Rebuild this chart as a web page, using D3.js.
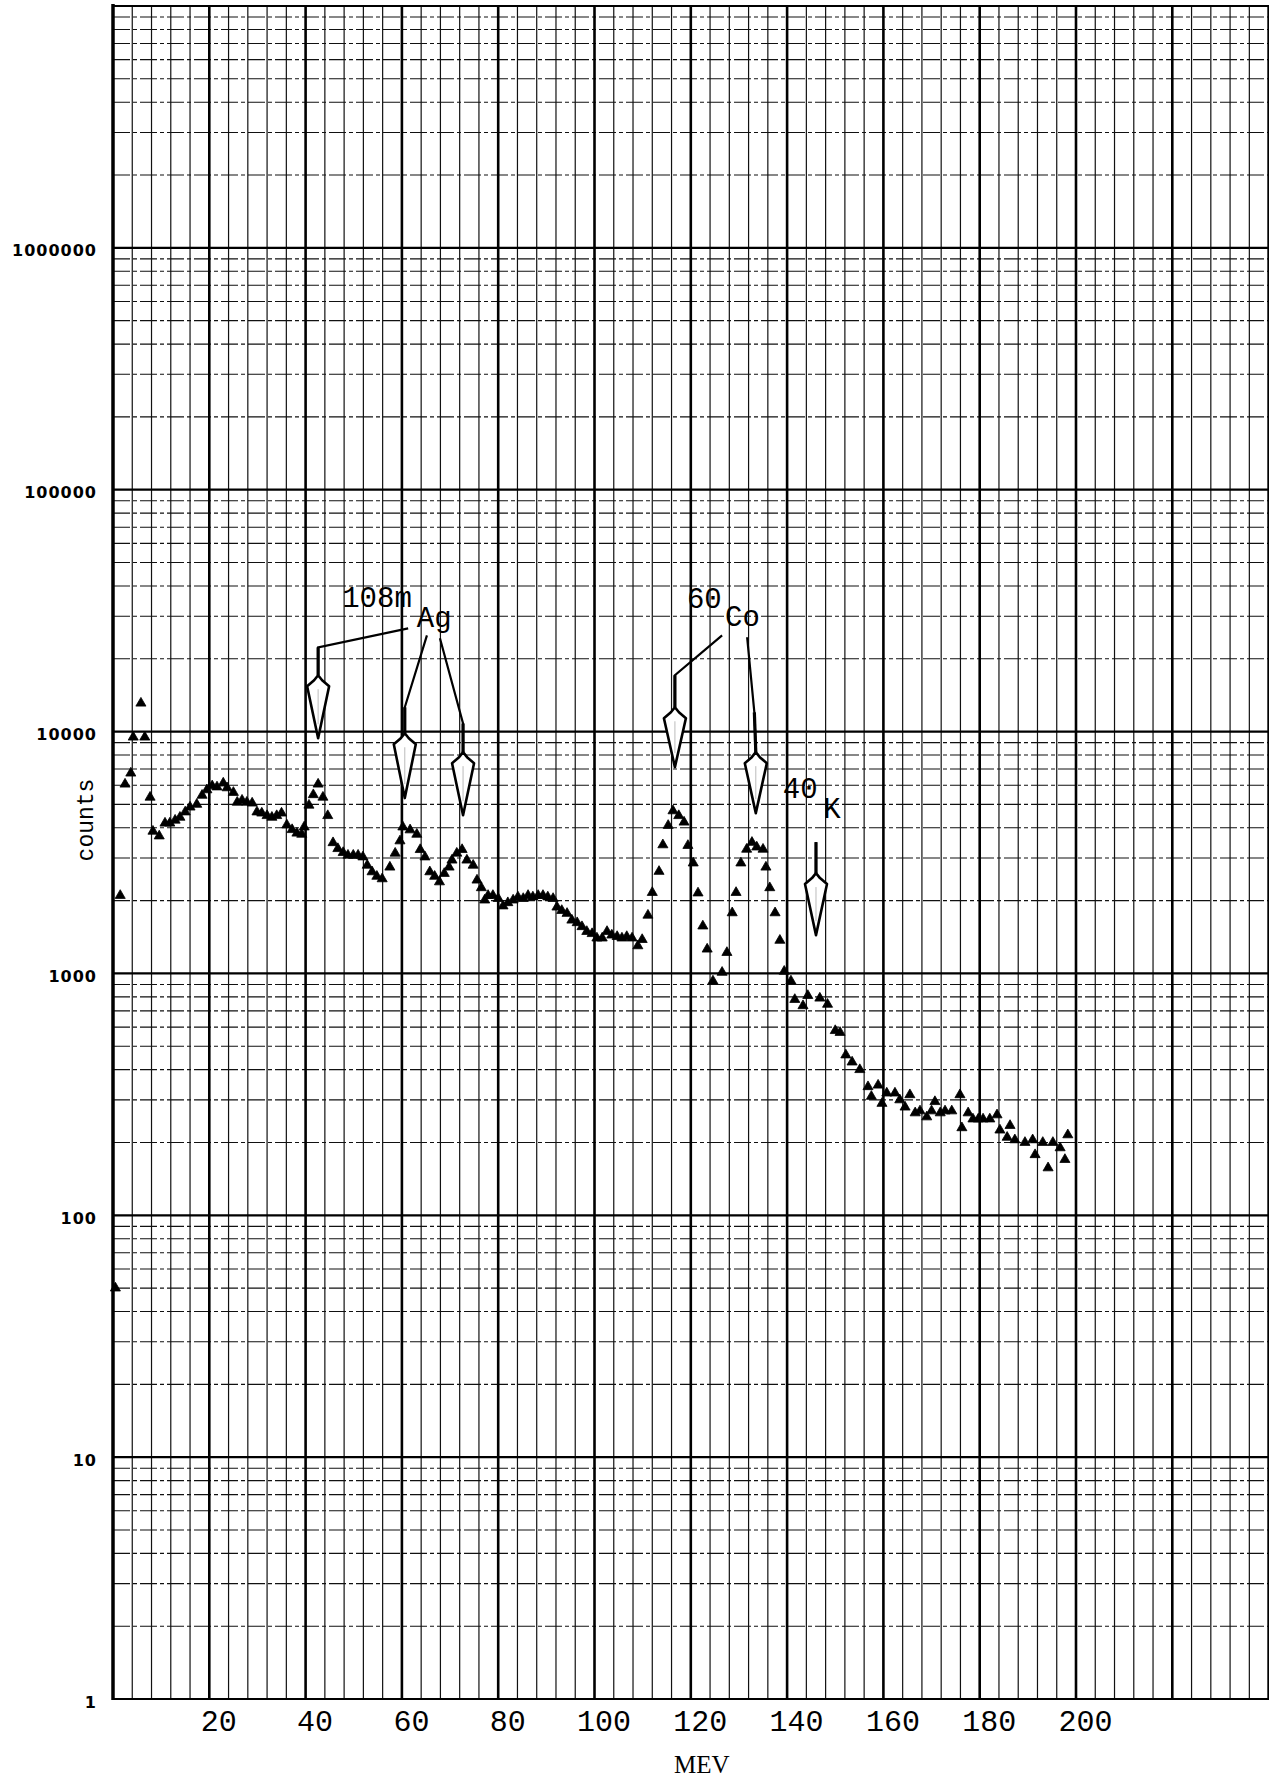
<!DOCTYPE html>
<html>
<head>
<meta charset="utf-8">
<script src="https://cdn.jsdelivr.net/npm/d3@7"></script>
<style>
  body { margin: 0; background: #fff; }
  svg { display: block; }
</style>
</head>
<body>
<svg id="chart" width="1269" height="1777"></svg>
<script>
// spectrum: energy (MEV) and counts
var energy = [0.5, 1.5, 2.5, 3.7, 4.2, 5.8, 6.6, 7.7, 8.3, 9.6,
  10.8, 11.8, 12.9, 13.9, 15.0, 16.0, 17.4, 18.5, 19.5, 20.6,
  21.6, 22.9, 23.7, 25.0, 25.8, 26.8, 27.8, 28.9, 29.9, 30.9,
  32.0, 33.0, 34.0, 35.0, 36.1, 37.2, 38.2, 39.2, 39.7, 40.7,
  41.6, 42.6, 43.6, 44.6, 45.7, 46.7, 47.8, 48.8, 49.9, 50.9,
  51.9, 52.8, 53.8, 54.8, 55.9, 57.5, 58.6, 59.6, 60.2, 61.7,
  63.1, 63.8, 64.8, 65.8, 66.8, 67.8, 68.8, 69.8, 70.4, 71.4,
  72.5, 73.5, 74.8, 75.6, 76.5, 77.2, 77.9, 78.9, 80.0, 81.0,
  82.0, 83.1, 84.1, 85.2, 86.2, 87.2, 88.3, 89.3, 90.3, 91.4,
  92.2, 93.2, 94.3, 95.3, 96.4, 97.4, 98.4, 99.5, 100.5, 101.6,
  102.6, 103.6, 104.7, 105.7, 106.7, 107.8, 109.0, 109.9, 111.1, 112.0,
  113.4, 114.2, 115.3, 116.3, 117.5, 118.6, 119.4, 120.5, 121.5, 122.5,
  123.4, 124.6, 126.5, 127.5, 128.6, 129.4, 130.4, 131.6, 132.7, 133.7,
  135.0, 135.6, 136.4, 137.5, 138.5, 139.4, 140.8, 141.6, 143.3, 144.3,
  146.8, 148.4, 150.0, 151.0, 152.2, 153.5, 155.1, 156.8, 157.5, 158.9,
  159.7, 160.7, 162.4, 163.4, 164.5, 165.5, 166.6, 167.6, 169.0, 170.0,
  170.7, 171.8, 172.8, 174.2, 175.9, 176.3, 177.6, 178.6, 179.7, 180.7,
  182.1, 183.6, 184.2, 185.7, 186.3, 187.3, 189.4, 191.0, 191.5, 193.1,
  194.2, 195.2, 196.7, 197.7, 198.3];
var counts = [50, 2100, 6060, 6730, 9480, 13100, 9480, 5350, 3870, 3700,
  4180, 4180, 4300, 4420, 4650, 4870, 5000, 5450, 5740, 5960,
  5900, 6120, 5850, 5600, 5100, 5200, 5100, 5060, 4650, 4600,
  4490, 4420, 4490, 4600, 4110, 3930, 3800, 3760, 4030, 4960,
  5480, 6060, 5350, 4490, 3470, 3280, 3160, 3080, 3080, 3080,
  3030, 2800, 2630, 2520, 2460, 2750, 3140, 3530, 4030, 3920,
  3760, 3250, 3030, 2630, 2520, 2390, 2590, 2750, 2940, 3140,
  3250, 2940, 2800, 2430, 2260, 2010, 2100, 2100, 2040, 1900,
  1960, 2010, 2070, 2040, 2100, 2070, 2100, 2100, 2070, 2040,
  1880, 1820, 1770, 1660, 1620, 1560, 1490, 1460, 1400, 1400,
  1490, 1440, 1420, 1400, 1420, 1400, 1300, 1380, 1740, 2160,
  2640, 3400, 4090, 4700, 4490, 4220, 3380, 2860, 2150, 1570,
  1260, 930, 1010, 1220, 1780, 2160, 2860, 3260, 3480, 3330,
  3260, 2750, 2260, 1780, 1370, 1020, 930, 780, 735, 810,
  790, 745, 580, 570, 460, 430, 400, 340, 310, 345,
  290, 320, 320, 300, 280, 315, 265, 270, 255, 270,
  295, 265, 270, 270, 315, 230, 265, 250, 250, 250,
  250, 260, 225, 210, 235, 205, 200, 205, 178, 200,
  157, 200, 190, 170, 215];

var countTicks = [1, 10, 100, 1000, 10000, 100000, 1000000];
var energyTicks = [20, 40, 60, 80, 100, 120, 140, 160, 180, 200];

// hand-drawn peak markers: leader line points and arrow tips, in (MEV, counts)
var arrowLeaders = [
  [[61.3, 26700], [42.6, 22300], [42.6, 17100]],
  [[65.2, 25000], [60.6, 12600], [60.6, 9840]],
  [[67.9, 24300], [72.7, 10800], [72.7, 8220]],
  [[126.5, 25000], [116.7, 17100], [116.7, 12600]],
  [[131.7, 24550], [133.2, 12000], [133.5, 8220]],
  [[146.0, 3490], [146.0, 2600]]
];
var arrowTips = [[42.6, 9390], [60.6, 5310], [72.7, 4510], [116.7, 7130], [133.5, 4600], [146.0, 1440]];

var isotopeText = ["108m", "Ag", "60", "Co", "40", "K"];
var isotopeAt = [[47.6, 32700], [63.1, 27000], [119.2, 32400], [127.1, 27300], [139.1, 5310], [147.5, 4390]];

var svg = d3.select("#chart");

var x = d3.scaleLinear().domain([0, 240]).range([113, 1268.6]);
var y = d3.scaleLog().domain([1, 1e7]).range([1699, 6]);

// ---- graph paper ----
var grid = svg.append("g");

var minorCounts = [];
for (var p = 0; p < 7; p++) {
  for (var k = 2; k <= 9; k++) minorCounts.push(k * Math.pow(10, p));
}
grid.selectAll(".hminor").data(minorCounts).enter().append("line")
    .attr("x1", x(0)).attr("x2", 1269)
    .attr("y1", function(d) { return y(d) }).attr("y2", function(d) { return y(d) })
    .attr("stroke", "#111").attr("stroke-width", 1.1)
    .attr("stroke-dasharray", "17,3,4,3");

var minorE = d3.range(4, 241, 4).filter(function(e) { return e % 20 != 0 });
grid.selectAll(".vminor").data(minorE).enter().append("line")
    .attr("y1", y(1e7)).attr("y2", y(1))
    .attr("x1", function(d) { return x(d) }).attr("x2", function(d) { return x(d) })
    .attr("stroke", "#111").attr("stroke-width", 1.2);

grid.selectAll(".hmajor").data(countTicks.concat([1e7])).enter().append("line")
    .attr("x1", x(0)).attr("x2", 1269)
    .attr("y1", function(d) { return y(d) }).attr("y2", function(d) { return y(d) })
    .attr("stroke", "#000").attr("stroke-width", 2.2);

grid.selectAll(".vmajor").data(d3.range(20, 241, 20)).enter().append("line")
    .attr("y1", y(1e7)).attr("y2", y(1))
    .attr("x1", function(d) { return x(d) }).attr("x2", function(d) { return x(d) })
    .attr("stroke", "#000").attr("stroke-width", 2.6);

grid.append("line")
    .attr("x1", x(0)).attr("x2", x(0)).attr("y1", y(1e7) - 2).attr("y2", y(1) + 1)
    .attr("stroke", "#000").attr("stroke-width", 3.5);

// ---- axes ----
var yAxis = svg.append("g")
    .attr("transform", "translate(" + x(0) + ",0)")
    .call(d3.axisLeft(y).tickValues(countTicks).tickFormat(d3.format("d")).tickSize(0).tickPadding(16));
yAxis.select(".domain").remove();
yAxis.selectAll("text")
    .attr("dy", null).attr("y", 8)
    .style("font-family", "DejaVu Sans").style("font-weight", "bold")
    .style("font-size", "16px").style("letter-spacing", "1px").attr("fill", "#000");

var xAxis = svg.append("g")
    .attr("transform", "translate(0," + y(1) + ")")
    .call(d3.axisBottom(x).tickValues(energyTicks).tickSize(0));
xAxis.select(".domain").remove();
xAxis.selectAll("text")
    .attr("dy", null).attr("y", 32).attr("x", 9)
    .style("font-family", "Liberation Mono").style("font-size", "30px").attr("fill", "#000");

svg.append("text")
    .attr("x", x(122.3)).attr("y", 1773)
    .attr("text-anchor", "middle")
    .style("font-family", "Liberation Serif").style("font-size", "25px")
    .text("MEV");

svg.append("text")
    .attr("transform", "translate(93,820) rotate(-90)")
    .attr("text-anchor", "middle")
    .style("font-family", "Liberation Mono").style("font-size", "23px")
    .text("counts");

// ---- spectrum ----
var tri = d3.symbol().type(d3.symbolTriangle).size(44);
svg.append("g").selectAll("path").data(energy).enter().append("path")
    .attr("d", tri)
    .attr("transform", function(e, i) { return "translate(" + x(e) + "," + y(counts[i]) + ")" })
    .attr("fill", "#000").attr("stroke", "#000").attr("stroke-width", 0.8)
    .attr("stroke-linejoin", "round");

// ---- peak arrows ----
var ann = svg.append("g");
var leader = d3.line().x(function(d) { return x(d[0]) }).y(function(d) { return y(d[1]) });

arrowLeaders.forEach(function(pts, i) {
  ann.append("path").attr("d", leader(pts))
      .attr("fill", "none").attr("stroke", "#000").attr("stroke-width", 2.2);
  var stem = pts.slice(-2);
  ann.append("path").attr("d", leader(stem))
      .attr("fill", "none").attr("stroke", "#000").attr("stroke-width", 3.2);

  var neck = pts[pts.length - 1], tip = arrowTips[i];
  var cx = x(tip[0]), yn = y(neck[1]), yt = y(tip[1]);
  var spear = "M" + cx + "," + yn +
      "L" + (cx - 4) + "," + (yn + 5) + "L" + (cx - 11) + "," + (yn + 11) +
      "L" + cx + "," + yt +
      "L" + (cx + 11) + "," + (yn + 11) + "L" + (cx + 4) + "," + (yn + 5) + "Z";
  ann.append("path").attr("d", spear)
      .attr("fill", "#fff").attr("stroke", "#000").attr("stroke-width", 2.6)
      .attr("stroke-linejoin", "round");
  ann.append("line")
      .attr("x1", cx).attr("x2", cx).attr("y1", yn + 14).attr("y2", yt - 14)
      .attr("stroke", "#bbb").attr("stroke-width", 1);
});

ann.selectAll("text").data(isotopeText).enter().append("text")
    .attr("x", function(t, i) { return x(isotopeAt[i][0]) })
    .attr("y", function(t, i) { return y(isotopeAt[i][1]) })
    .style("font-family", "Liberation Mono").style("font-size", "29px")
    .attr("fill", "#000")
    .text(function(t) { return t });
</script>
</body>
</html>
